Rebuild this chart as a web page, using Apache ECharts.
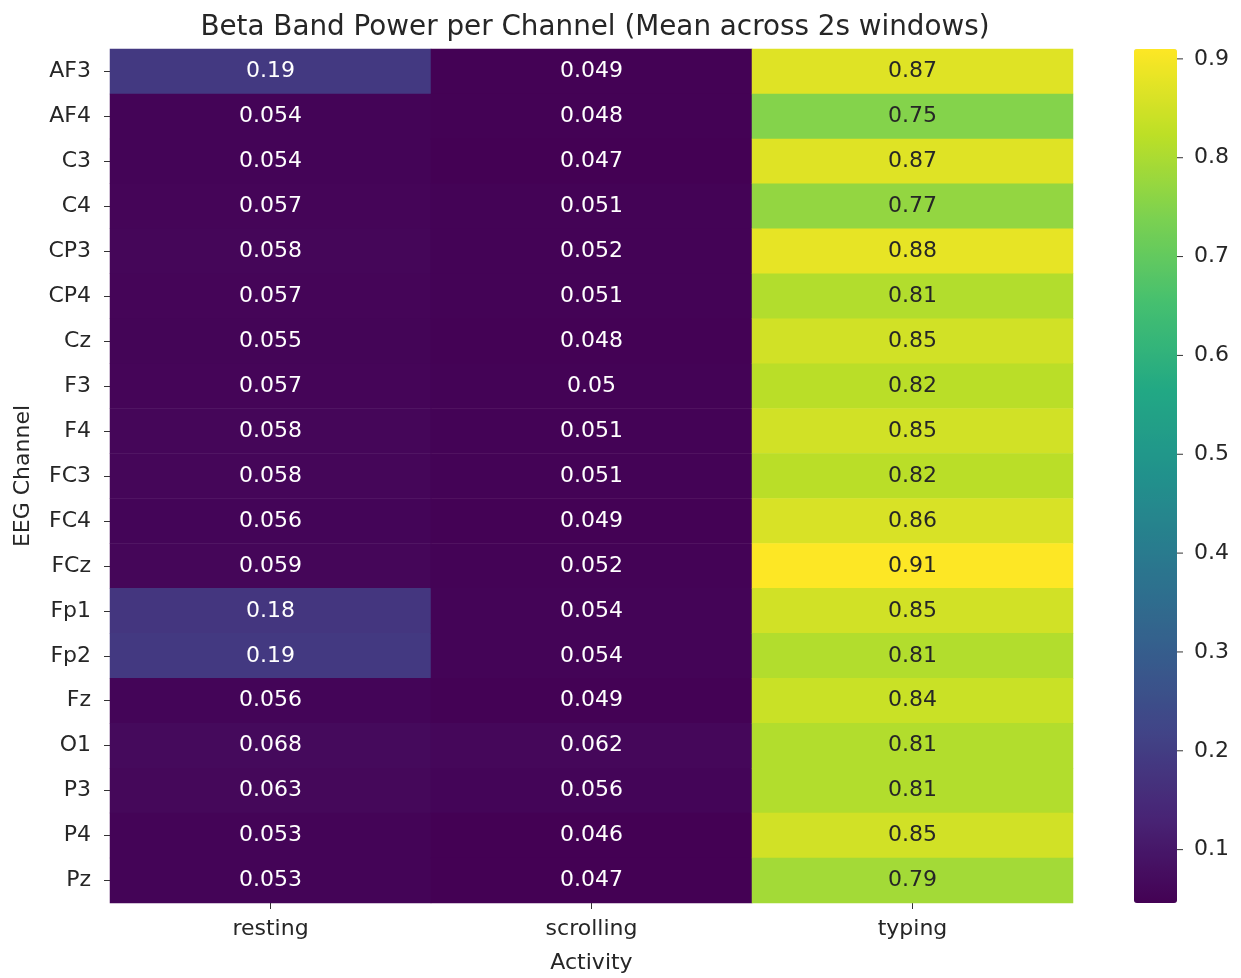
<!DOCTYPE html>
<html>
<head>
<meta charset="utf-8">
<script src="https://cdn.jsdelivr.net/npm/echarts@6/dist/echarts.min.js"></script>
<style>
  html, body { margin: 0; padding: 0; background: #ffffff; }
  #chart { width: 1241px; height: 978px; }
</style>
</head>
<body>
<div id="chart"></div>
<script>
// EEG channels (rows, top to bottom) and activities (columns)
const channels = ['AF3', 'AF4', 'C3', 'C4', 'CP3', 'CP4', 'Cz', 'F3', 'F4', 'FC3',
                  'FC4', 'FCz', 'Fp1', 'Fp2', 'Fz', 'O1', 'P3', 'P4', 'Pz'];
const activities = ['resting', 'scrolling', 'typing'];

// Mean beta band power per channel for each activity
const resting   = [0.19, 0.054, 0.054, 0.057, 0.058, 0.057, 0.055, 0.057, 0.058, 0.058,
                   0.056, 0.059, 0.18, 0.19, 0.056, 0.068, 0.063, 0.053, 0.053];
const scrolling = [0.049, 0.048, 0.047, 0.051, 0.052, 0.051, 0.048, 0.05, 0.051, 0.051,
                   0.049, 0.052, 0.054, 0.054, 0.049, 0.062, 0.056, 0.046, 0.047];
const typing    = [0.87, 0.75, 0.87, 0.77, 0.88, 0.81, 0.85, 0.82, 0.85, 0.82,
                   0.86, 0.91, 0.85, 0.81, 0.84, 0.81, 0.81, 0.85, 0.79];

// Colour bar tick labels
const colorbarTicks = [0.1, 0.2, 0.3, 0.4, 0.5, 0.6, 0.7, 0.8, 0.9];

const columns = [resting, scrolling, typing];
const allValues = [].concat(resting, scrolling, typing);
const vMin = Math.min.apply(null, allValues);
const vMax = Math.max.apply(null, allValues);

// viridis colour ramp
const viridis = ['#440154', '#482475', '#414487', '#355f8d', '#2a788e', '#21918c',
                 '#22a884', '#44bf70', '#7ad151', '#bddf26', '#fde725'];

const FONT = 'DejaVu Sans';
const DARK = '#262626';
const TICK_LEN = 6;

const cells = [];
columns.forEach(function (col, ci) {
  col.forEach(function (v, ri) {
    const t = (v - vMin) / (vMax - vMin);
    cells.push({
      value: [ci, ri, v],
      label: { color: t > 0.6 ? DARK : '#ffffff' }
    });
  });
});

function fmt2g(v) {
  return String(parseFloat(Number(v).toPrecision(2)));
}

const chart = echarts.init(document.getElementById('chart'), null, { renderer: 'canvas' });

chart.setOption({
  backgroundColor: '#ffffff',
  animation: false,
  title: {
    text: 'Beta Band Power per Channel (Mean across 2s windows)',
    left: 590, top: 9, textAlign: 'center',
    textStyle: { fontFamily: FONT, fontSize: 27.8, fontWeight: 'normal', color: DARK }
  },
  grid: [
    { left: 110, top: 49, width: 963, height: 854, outerBoundsMode: 'none', containLabel: false },
    { left: 1134, top: 49, width: 43, height: 854, outerBoundsMode: 'none', containLabel: false }
  ],
  xAxis: [
    {
      gridIndex: 0, type: 'category', data: activities, position: 'bottom',
      name: 'Activity', nameLocation: 'middle', nameGap: 49,
      nameTextStyle: { fontFamily: FONT, fontSize: 22, color: DARK },
      axisLine: { show: false },
      axisTick: { show: true, alignWithLabel: true, length: TICK_LEN, lineStyle: { color: '#333', width: 1 } },
      axisLabel: { fontFamily: FONT, fontSize: 22, color: DARK, margin: 15 },
      splitLine: { show: false }
    },
    {
      gridIndex: 1, type: 'value', min: 0, max: 1, show: false
    }
  ],
  yAxis: [
    {
      gridIndex: 0, type: 'category', data: channels, inverse: true,
      name: 'EEG Channel', nameLocation: 'middle', nameGap: 76, nameRotate: 90,
      nameTextStyle: { fontFamily: FONT, fontSize: 22, color: DARK },
      axisLine: { show: false },
      axisTick: { show: true, alignWithLabel: true, length: TICK_LEN, lineStyle: { color: '#333', width: 1 } },
      axisLabel: { fontFamily: FONT, fontSize: 22, color: DARK, margin: 19 },
      splitLine: { show: false }
    },
    {
      gridIndex: 1, type: 'value', position: 'right', min: vMin, max: vMax,
      axisLine: { show: false },
      axisTick: { show: false },
      axisLabel: {
        fontFamily: FONT, fontSize: 22, color: DARK, margin: 17,
        customValues: colorbarTicks,
        formatter: function (v) { return fmt2g(v); }
      },
      splitLine: { show: false }
    }
  ],
  visualMap: {
    type: 'continuous',
    seriesIndex: 0,
    min: vMin, max: vMax,
    calculable: false,
    hoverLink: false,
    left: 1134, top: 49,
    itemWidth: 43, itemHeight: 854,
    padding: 0,
    text: null,
    showLabel: false,
    inRange: { color: viridis }
  },
  series: [
    {
      type: 'heatmap',
      xAxisIndex: 0, yAxisIndex: 0,
      data: cells,
      itemStyle: { borderWidth: 0 },
      label: {
        show: true,
        fontFamily: FONT, fontSize: 22,
        formatter: function (p) { return fmt2g(p.value[2]); }
      },
      emphasis: { disabled: true }
    },
    {
      // tick marks on the right side of the colour bar
      type: 'custom',
      xAxisIndex: 1, yAxisIndex: 1,
      clip: false,
      silent: true,
      data: colorbarTicks.map(function (v) { return [1, v]; }),
      renderItem: function (params, api) {
        const p = api.coord([api.value(0), api.value(1)]);
        return {
          type: 'line',
          shape: { x1: p[0], y1: p[1], x2: p[0] + TICK_LEN, y2: p[1] },
          style: { stroke: '#333', lineWidth: 1 }
        };
      }
    }
  ]
});
</script>
</body>
</html>
